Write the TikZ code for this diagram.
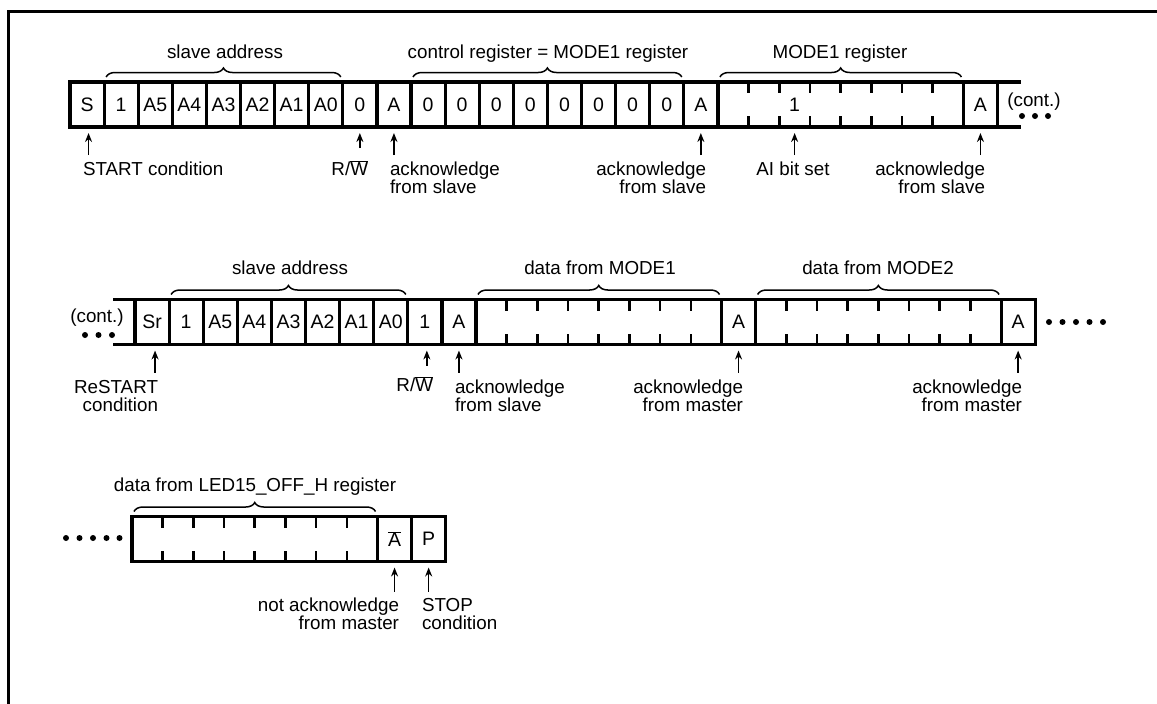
\documentclass[tikz,border=0pt]{standalone}
\usepackage{fontspec}
\setmainfont{Liberation Sans}
\usetikzlibrary{decorations.pathreplacing,arrows.meta}
\newcommand\mytickmarks[1]{%
  \foreach \k in {1,...,7}{%
    \draw[tick] ([xshift=\k*30.69pt]#1.north west) -- ++(0,11);
    \draw[tick] ([xshift=\k*30.69pt]#1.south west) -- ++(0,-11);
  }}
\begin{document}
\begin{tikzpicture}[x=1pt,y=-1pt,
  every node/.style={font=\fontsize{18.8}{18}\selectfont},
  cell/.style={draw,line width=3.2pt,minimum width=34.1pt,minimum height=45pt,inner sep=0pt,outer sep=0pt,anchor=west,font=\fontsize{19.5}{19}\selectfont},
  dblock/.style={cell,minimum width=245.5pt},
  tick/.style={line width=2.6pt},
  lbl/.style={inner sep=0pt,outer sep=0pt},
  arr/.style={line width=1.6pt,-{Stealth[length=9pt,width=7pt]}},
  brc/.style={decorate,decoration={brace,amplitude=9pt},line width=1.5pt},
  rowline/.style={line width=3.2pt},
]
\useasboundingbox (0,0) rectangle (1157,704);
\begin{scope}
  \clip (0,0) rectangle (1157,704);
  \draw[line width=3pt] (8.5,11) rectangle (1220,760);
\end{scope}

% ---------------- Row 1 ----------------
\foreach \t [count=\i from 0] in {S,1,A5,A4,A3,A2,A1,A0,0,A,0,0,0,0,0,0,0,0,A}
  \node[cell] (r1c\i) at ({70+34.1*\i},104.5) {\t};
\node[dblock] (r1d) at (r1c18.east) {};
\mytickmarks{r1d}
\node[lbl,font=\fontsize{19.5}{19}\selectfont] (r1one) at ([xshift=2.5*30.69pt]r1d.west) {1};
\node[cell] (r1a) at (r1d.east) {A};
\draw[rowline] (r1a.north east) -- ++(23,0) coordinate (r1et);
\draw[rowline] (r1a.south east) -- ++(23,0) coordinate (r1eb);
\node[lbl] (r1cont) at (1034,102) {(cont.)};
\foreach \x in {1022,1035,1048} \fill (\x,116) circle (3pt);

\draw[brc] ([xshift=2pt,yshift=5pt]r1c1.north west) -- ([xshift=-2pt,yshift=5pt]r1c7.north east);
\draw[brc] ([xshift=2pt,yshift=5pt]r1c10.north west) -- ([xshift=-2pt,yshift=5pt]r1c17.north east);
\draw[brc] ([xshift=2pt,yshift=5pt]r1d.north west) -- ([xshift=-2pt,yshift=5pt]r1d.north east);
\node[lbl,anchor=base] (t1a) at (225,58.5) {slave address};
\node[lbl,anchor=base] (t1b) at (548,58.5) {control register = MODE1 register};
\node[lbl,anchor=base] (t1c) at (840,58.5) {MODE1 register};

\node[lbl,anchor=base west] (l1a) at (83,175.5) {START condition};
\node[lbl,anchor=base east] (l1b) at (368,175.5) {R/$\overline{\mbox{W}}$};
\node[lbl,anchor=north west,align=left] (l1c) at (390,162.2) {acknowledge\\from slave};
\node[lbl,anchor=north east,align=right] (l1d) at (706,162.2) {acknowledge\\from slave};
\node[lbl,anchor=base] (l1e) at (793,175.5) {AI bit set};
\node[lbl,anchor=north east,align=right] (l1f) at (985,162.2) {acknowledge\\from slave};

\draw[arr] ([xshift=1.5pt,yshift=-28pt]r1c0.south) -- ([xshift=1.5pt,yshift=-6pt]r1c0.south);
\draw[arr] ([yshift=-21pt]r1c8.south) -- ([yshift=-6pt]r1c8.south);
\draw[arr] ([yshift=-28pt]r1c9.south) -- ([yshift=-6pt]r1c9.south);
\draw[arr] ([yshift=-28pt]r1c18.south) -- ([yshift=-6pt]r1c18.south);
\draw[arr] ([yshift=-28pt,xshift=2.5*30.69pt]r1d.south west) -- ([yshift=-6pt,xshift=2.5*30.69pt]r1d.south west);
\draw[arr] ([yshift=-28pt]r1a.south) -- ([yshift=-6pt]r1a.south);

% ---------------- Row 2 ----------------
\foreach \t [count=\i from 0] in {Sr,1,A5,A4,A3,A2,A1,A0,1,A}
  \node[cell] (r2c\i) at ({135+34.1*\i},322) {\t};
\draw[rowline] (r2c0.north west) -- ++(-22,0) coordinate (r2st);
\draw[rowline] (r2c0.south west) -- ++(-22,0) coordinate (r2sb);
\node[lbl] (r2cont) at (97,318) {(cont.)};
\foreach \x in {85,98.5,112} \fill (\x,335) circle (3pt);
\node[dblock] (r2d1) at (r2c9.east) {};
\mytickmarks{r2d1}
\node[cell] (r2a1) at (r2d1.east) {A};
\node[dblock] (r2d2) at (r2a1.east) {};
\mytickmarks{r2d2}
\node[cell] (r2a2) at (r2d2.east) {A};
\foreach \x in {1049,1062.5,1076,1089.5,1103} \fill (\x,322) circle (3pt);

\draw[brc] ([xshift=2pt,yshift=5pt]r2c1.north west) -- ([xshift=-2pt,yshift=5pt]r2c7.north east);
\draw[brc] ([xshift=2pt,yshift=5pt]r2d1.north west) -- ([xshift=-2pt,yshift=5pt]r2d1.north east);
\draw[brc] ([xshift=2pt,yshift=5pt]r2d2.north west) -- ([xshift=-2pt,yshift=5pt]r2d2.north east);
\node[lbl,anchor=base] (t2a) at (290,274.5) {slave address};
\node[lbl,anchor=base] (t2b) at (600,274.5) {data from MODE1};
\node[lbl,anchor=base] (t2c) at (878,274.5) {data from MODE2};

\node[lbl,anchor=north east,align=right] (l2a) at (158,380.2) {ReSTART\\condition};
\node[lbl,anchor=base east] (l2b) at (433,391.5) {R/$\overline{\mbox{W}}$};
\node[lbl,anchor=north west,align=left] (l2c) at (455,380.2) {acknowledge\\from slave};
\node[lbl,anchor=north east,align=right] (l2d) at (743,380.2) {acknowledge\\from master};
\node[lbl,anchor=north east,align=right] (l2e) at (1022,380.2) {acknowledge\\from master};

\draw[arr] ([xshift=3pt,yshift=-28pt]r2c0.south) -- ([xshift=3pt,yshift=-6pt]r2c0.south);
\draw[arr] ([xshift=2pt,yshift=-21pt]r2c8.south) -- ([xshift=2pt,yshift=-6pt]r2c8.south);
\draw[arr] ([yshift=-28pt]r2c9.south) -- ([yshift=-6pt]r2c9.south);
\draw[arr] ([yshift=-28pt]r2a1.south) -- ([yshift=-6pt]r2a1.south);
\draw[arr] ([yshift=-28pt]r2a2.south) -- ([yshift=-6pt]r2a2.south);

% ---------------- Row 3 ----------------
\foreach \x in {66,79.5,93,106.5,119.5} \fill (\x,538) circle (3pt);
\node[dblock] (r3d) at (132,539) {};
\mytickmarks{r3d}
\node[cell] (r3na) at (r3d.east) {$\overline{\mbox{A}}$};
\node[cell] (r3p) at (r3na.east) {P};
\draw[brc] ([xshift=2pt,yshift=5pt]r3d.north west) -- ([xshift=-2pt,yshift=5pt]r3d.north east);
\node[lbl,anchor=base] (t3a) at (255,491.5) {data from LED15\_OFF\_H register};
\node[lbl,anchor=north east,align=right] (l3a) at (399,598) {not acknowledge\\from master};
\node[lbl,anchor=north west,align=left] (l3b) at (422,598) {STOP\\condition};
\draw[arr] ([yshift=-30pt]r3na.south) -- ([yshift=-6pt]r3na.south);
\draw[arr] ([yshift=-30pt]r3p.south) -- ([yshift=-6pt]r3p.south);
\end{tikzpicture}
\end{document}
